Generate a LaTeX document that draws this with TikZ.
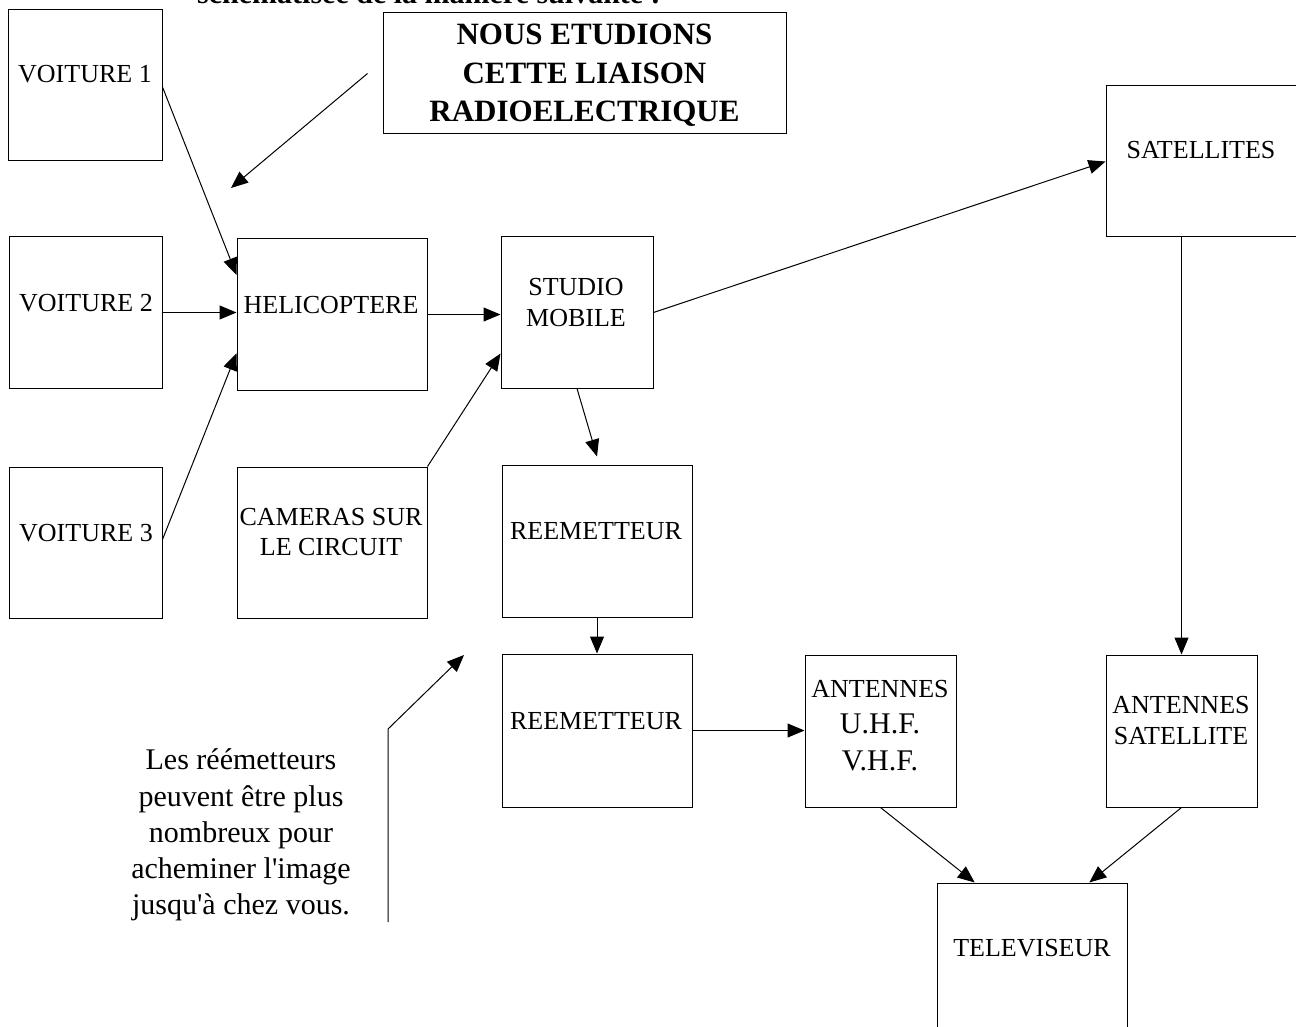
\documentclass[tikz,border=0pt]{standalone}
\usepackage{fontspec}
\setmainfont{Liberation Serif}[Ligatures=TeXOff]
\usetikzlibrary{arrows.meta,calc}
\begin{document}
\begin{tikzpicture}[x=1pt,y=-1pt,
  box/.style={draw, line width=1pt, inner sep=0pt},
  lbl/.style={inner sep=0pt, anchor=base, font=\fontsize{26}{31}\selectfont},
  big/.style={inner sep=0pt, anchor=base, font=\fontsize{30}{36}\selectfont},
  ttl/.style={inner sep=0pt, anchor=base, font=\fontsize{31}{37}\selectfont\bfseries},
  con/.style={line width=1pt, -{Triangle[length=17pt,width=14pt]}},
  ln/.style={line width=1pt}]
\useasboundingbox (0,0) rectangle (1296,1027);
\clip (0,0) rectangle (1296,1027);
\fill[white] (0,0) rectangle (1296,1027);

% cut-off heading
\node[inner sep=0pt, anchor=base west, font=\fontsize{30}{36}\selectfont\bfseries] (head) at (197,3.5) {schématisée de la manière suivante :};

% boxes
\node[box, minimum width=154pt, minimum height=151pt] (v1) at (85,85.5) {};
\node[box, minimum width=153pt, minimum height=151pt] (v2) at (85.5,312.5) {};
\node[box, minimum width=153pt, minimum height=151pt] (v3) at (85.5,542.5) {};
\node[box, minimum width=190pt, minimum height=151pt] (heli) at (332,314.5) {};
\node[box, minimum width=152pt, minimum height=151pt] (studio) at (577,312.5) {};
\node[box, minimum width=190pt, minimum height=151pt] (cam) at (332,542.5) {};
\node[box, minimum width=190pt, minimum height=152pt] (reem1) at (597,541) {};
\node[box, minimum width=190pt, minimum height=153pt] (reem2) at (597,730.5) {};
\node[box, minimum width=151pt, minimum height=152pt] (uhf) at (880.5,731) {};
\node[box, minimum width=151pt, minimum height=152pt] (antsat) at (1181.5,731) {};
\node[box, minimum width=200pt, minimum height=151pt] (sat) at (1206,161.5) {};
\node[box, minimum width=190pt, minimum height=157pt] (tv) at (1032,961.5) {};
\node[box, minimum width=403pt, minimum height=121pt] (nous) at (584.5,73.5) {};

% texts
\node[lbl] (v1t) at (85,83) {VOITURE 1};
\node[lbl] (v2t) at (86,311) {VOITURE 2};
\node[lbl] (v3t) at (86,541) {VOITURE 3};
\node[lbl] (helit) at (331,313) {HELICOPTERE};
\node[lbl] (studiot1) at (576,295) {STUDIO};
\node[lbl] (studiot2) at (576,326) {MOBILE};
\node[lbl] (camt1) at (331,525) {CAMERAS SUR};
\node[lbl] (camt2) at (331,555) {LE CIRCUIT};
\node[lbl] (reem1t) at (596,539) {REEMETTEUR};
\node[lbl] (reem2t) at (596,729) {REEMETTEUR};
\node[lbl] (uhft1) at (880,697) {ANTENNES};
\node[big] (uhft2) at (880,733) {U.H.F.};
\node[big] (uhft3) at (880,770) {V.H.F.};
\node[lbl] (antsatt1) at (1181,713) {ANTENNES};
\node[lbl] (antsatt2) at (1181,744) {SATELLITE};
\node[lbl] (satt) at (1201,159) {SATELLITES};
\node[lbl] (tvt) at (1032,956) {TELEVISEUR};
\node[ttl] (noust1) at (584.5,45) {NOUS ETUDIONS};
\node[ttl] (noust2) at (584.5,84) {CETTE LIAISON};
\node[ttl] (noust3) at (584.5,122) {RADIOELECTRIQUE};

% note
\node[big] (note1) at (241,769) {Les réémetteurs};
\node[big] (note2) at (241,806) {peuvent être plus};
\node[big] (note3) at (241,842) {nombreux pour};
\node[big] (note4) at (241,878) {acheminer l'image};
\node[big] (note5) at (241,914) {jusqu'à chez vous.};

% connectors
\draw[con] ($(v1.north east)!0.51!(v1.south east)$) -- ($(heli.north west)!0.24!(heli.south west)$);
\draw[con] (v2.east) -- (v2.east -| heli.west);
\draw[con] ($(v3.north east)!0.48!(v3.south east)$) -- ($(heli.north west)!0.755!(heli.south west)$);
\draw[con] (heli.east) -- (heli.east -| studio.west);
\draw[con] (cam.north east) -- ($(studio.north west)!0.77!(studio.south west)$);
\draw[con] (studio.east) -- (sat.west);
\draw[con] (studio.south) -- ([yshift=8pt]reem1.north);
\draw[con] (reem1.south) -- (reem2.north);
\draw[con] (reem2.east) -- (reem2.east -| uhf.west);
\draw[con] (antsat.north |- sat.south) -- (antsat.north);
\draw[con] (uhf.south) -- ($(tv.north west)!0.2!(tv.north east)$);
\draw[con] (antsat.south) -- ($(tv.north west)!0.8!(tv.north east)$);

\coordinate (noustip) at (231,188);
\draw[con] ([xshift=-15pt]nous.west) -- (noustip);

\coordinate (c1) at (388,922);
\coordinate (c2) at (388,729);
\coordinate (c3) at (464,655);
\draw[con] (c1) -- (c2) -- (c3);
\end{tikzpicture}
\end{document}
